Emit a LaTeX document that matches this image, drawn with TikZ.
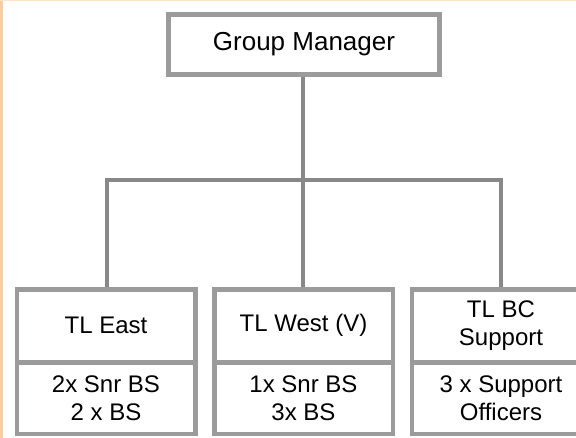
\documentclass[tikz,border=0pt]{standalone}
\usepackage{fontspec}
\setmainfont{Liberation Sans}
\definecolor{boxgray}{HTML}{9B9B9B}
\definecolor{linkgray}{HTML}{888888}
\definecolor{framebar}{HTML}{FFCC99}
\definecolor{frametop}{HTML}{FFE4C8}
\begin{document}
\begin{tikzpicture}[x=1pt,y=-1pt,
  orgbox/.style={draw=boxgray, line width=4.5pt, fill=white, rectangle, inner sep=0pt,
    minimum width=178.5pt, align=center, font=\fontsize{24}{27.6}\selectfont},
  topcell/.style={orgbox, minimum height=72.5pt},
  botcell/.style={orgbox, minimum height=71.5pt},
  link/.style={draw=linkgray, line width=4pt, line join=miter}]
\useasboundingbox (0,0) rectangle (576,438);
\clip (0,0) rectangle (576,438);
\fill[white] (0,0) rectangle (576,438);
\fill[framebar] (0,0) rectangle (3,438);
\fill[frametop] (0,0) rectangle (576,1);

% top box
\node[orgbox, line width=5pt, minimum width=271pt, minimum height=60pt,
  font=\fontsize{26}{30}\selectfont] (gm) at (304,44.5) {Group Manager};

% bottom boxes
\node[topcell] (e)  at (106,325.75) {TL East};
\node[botcell] (eb) at (106,398.25) {2x Snr BS\\2 x BS};
\node[topcell] (w)  at (303.5,325.75) {TL West (V)};
\node[botcell] (wb) at (303.5,398.25) {1x Snr BS\\3x BS};
\node[topcell] (s)  at (501,325.75) {TL BC\\Support};
\node[botcell] (sb) at (501,398.25) {3 x Support\\Officers};

% connectors
\coordinate (bus) at (303,180.5);
\draw[link] (gm.south -| bus) -- (bus);
\draw[link] ([xshift=1pt]e.north) -- ([xshift=1pt]e.north |- bus) -- (s.north |- bus) -- (s.north);
\draw[link] (bus) -- (bus |- w.north);
\end{tikzpicture}
\end{document}
